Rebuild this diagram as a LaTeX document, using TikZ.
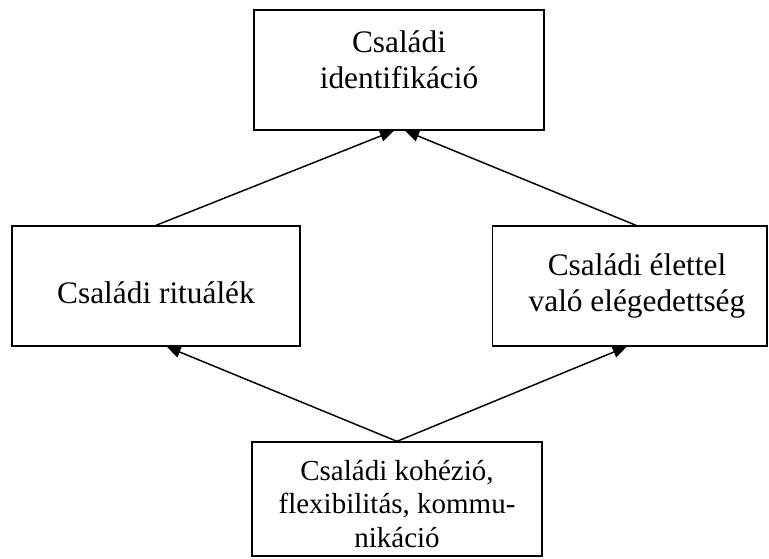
\documentclass[tikz,border=0pt]{standalone}
\usepackage{fontspec}
\setmainfont{Liberation Serif}
\usetikzlibrary{arrows.meta}

\tikzset{
  box/.style={draw, line width=1pt, minimum width=217.5pt, minimum height=90pt, inner sep=0pt},
  lbl/.style={align=center, inner sep=0pt, font=\fontsize{23.5pt}{27pt}\selectfont},
  lblsmall/.style={align=center, inner sep=0pt, font=\fontsize{21.75pt}{25pt}\selectfont},
  conn/.style={line width=1.1pt, -{Triangle[length=10.5pt,width=8.5pt]}}
}

\begin{document}
\begin{tikzpicture}[x=0.75pt, y=-0.75pt]
	\useasboundingbox (0,0) rectangle (769,558);
	
	% Boxes
	% Családi identifikáció
	\node[box] (ident) at (399,70) {};
	
	% Családi rituálék
	\node[box, minimum width=216pt] (rit) at (156,286) {};
	
	% Családi élettel való elégedettség
	\node[box, minimum width=206pt] (elet) at (629.5,286) {};
	
	% Családi kohézió, flexibilitás, kommunikáció
	\node[box, minimum height=85.5pt] (koh) at (397,499) {};
	
	% Box Labels
	\node[lbl, anchor=north] (identtxt) at (399,30.6) {Családi\\identifikáció};
	\node[lbl, anchor=base] (rittxt) at (156,303) {Családi rituálék};
	\node[lbl, anchor=north] (elettxt) at (637,253.6) {Családi élettel\\való elégedettség};
	\node[lblsmall, anchor=north] (kohtxt) at (397,460.2) {Családi kohézió,\\flexibilitás, kommu-\\nikáció};
	
	% Arrows
	\draw[conn] (rit.north) -- ([xshift=-3.75pt]ident.south);
	\draw[conn] ([xshift=4.9pt]elet.north) -- ([xshift=4.5pt]ident.south);
	\draw[conn] (koh.north) -- ([xshift=8pt]rit.south);
	\draw[conn] (koh.north) -- ([xshift=-2pt]elet.south);
	
\end{tikzpicture}
\end{document}
